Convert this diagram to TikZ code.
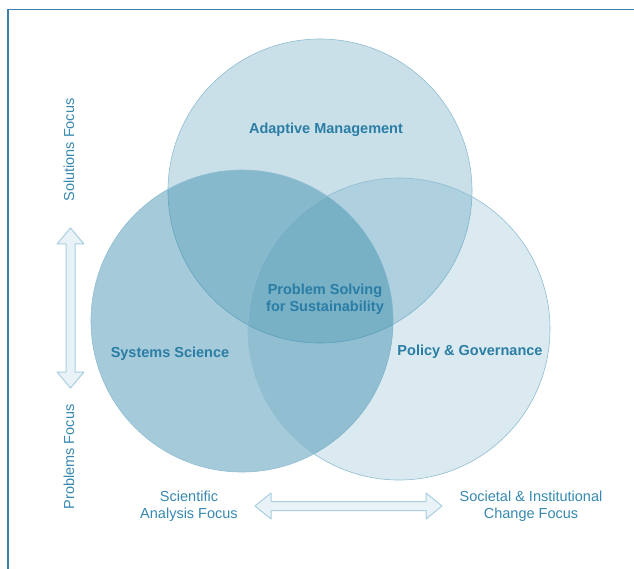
\documentclass[tikz,border=0pt]{standalone}
\usepackage{fontspec}
\setmainfont{Liberation Sans}
\definecolor{base}{HTML}{2F86A8}
\definecolor{edge}{HTML}{8FBDD2}
\definecolor{frame}{HTML}{3D7FA8}
\definecolor{headtxt}{HTML}{2A7DA5}
\definecolor{labtxt}{HTML}{3789B0}
\definecolor{arrfill}{HTML}{E9F3F7}
\definecolor{arredge}{HTML}{A8CFE0}
\begin{document}
\begin{tikzpicture}[x=1pt,y=-1pt,
  venn/.style={circle, minimum size=#1, inner sep=0pt, draw=edge, line width=0.6pt},
  head/.style={font=\fontsize{14.5}{17}\selectfont\bfseries, text=headtxt, align=center, inner sep=0pt},
  lab/.style={font=\fontsize{14.5}{17}\selectfont, text=labtxt, align=center, inner sep=0pt},
  fatarrow/.style={fill=arrfill, draw=arredge, line width=1pt, line join=round}]
\useasboundingbox (0,0) rectangle (634,569);
\fill[white] (0,0) rectangle (634,569);
% frame
\draw[frame, line width=1.3pt] (8,569) -- (8,9.5) -- (634,9.5);
% circles
\node[venn=304pt, fill=base, fill opacity=0.25] (am) at (320,191) {};
\node[venn=302pt, fill=base, fill opacity=0.43] (ss) at (242,321) {};
\node[venn=302pt, fill=base, fill opacity=0.17] (pg) at (399,329) {};
% labels
\node[head] (amt) at (326,130) {Adaptive Management};
\node[head] (sst) at (170,354) {Systems Science};
\node[head] (pgt) at (470,352) {Policy \& Governance};
\node[head] (ps) at (325,299) {Problem Solving\\for Sustainability};
\node[lab] (sci) at (189,506) {Scientific\\Analysis Focus};
\node[lab] (soc) at (531,506) {Societal \& Institutional\\Change Focus};
\node[lab, rotate=90] (sol) at (69,150) {Solutions Focus};
\node[lab, rotate=90] (prob) at (69,457) {Problems Focus};
% horizontal double arrow
\draw[fatarrow] (255,506) -- (271,493) -- (271,501.5) -- (426,501.5) -- (426,493) -- (442,506)
  -- (426,519) -- (426,510.5) -- (271,510.5) -- (271,519) -- cycle;
% vertical double arrow
\draw[fatarrow] (70.5,228) -- (57,244) -- (66,244) -- (66,372) -- (57,372) -- (70.5,388)
  -- (84,372) -- (75,372) -- (75,244) -- (84,244) -- cycle;
\end{tikzpicture}
\end{document}
